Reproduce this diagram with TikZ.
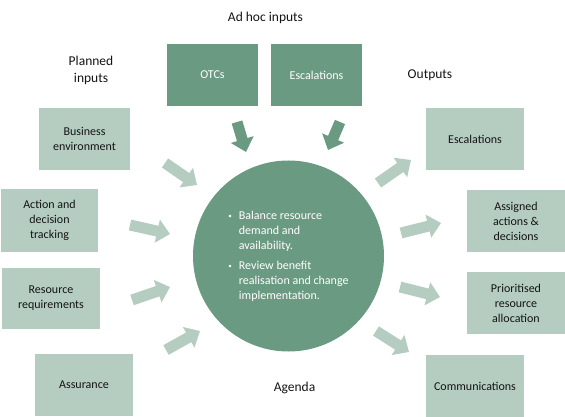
\documentclass[tikz,border=0pt]{standalone}
\usepackage{fontspec}
\setmainfont{Carlito}
\usetikzlibrary{arrows.meta}
\definecolor{darkg}{RGB}{107,154,130}
\definecolor{lightg}{RGB}{180,205,192}
\definecolor{txt}{RGB}{20,20,20}
\begin{document}
\begin{tikzpicture}[x=1pt,y=-1pt,
  lbox/.style={fill=lightg,draw=none,inner sep=0pt,align=center,text=txt,
    font=\fontsize{12}{15}\selectfont},
  dbox/.style={fill=darkg,draw=none,inner sep=0pt,align=center,text=white,
    font=\fontsize{12}{15}\selectfont},
  head/.style={text=txt,align=center,font=\fontsize{13.5}{17}\selectfont},
  blk/.style={line width=11pt,-{Triangle[length=13pt,width=23pt]}},
  lblk/.style={blk,draw=lightg},
  dblk/.style={blk,draw=darkg}]
\useasboundingbox (0,0) rectangle (565,417);
% titles
\node[head] (adhoc) at (265.5,18) {Ad hoc inputs};
\node[head] (planned) at (91,70) {Planned\\inputs};
\node[head] (outputs) at (430,75) {Outputs};
\node[head] (agenda) at (294.5,388) {Agenda};
% ad hoc boxes
\node[dbox,minimum width=91,minimum height=62] (otc) at (212.5,75) {OTCs};
\node[dbox,minimum width=91,minimum height=62] (escin) at (316.5,75) {Escalations};
% planned inputs
\node[lbox,minimum width=91,minimum height=62] (bus) at (84.5,139) {Business\\environment};
\node[lbox,minimum width=97,minimum height=63] (act) at (49.5,220.5) {Action and\\decision\\tracking};
\node[lbox,minimum width=98,minimum height=61] (res) at (51,298.5) {Resource\\requirements};
\node[lbox,minimum width=98,minimum height=62] (ass) at (84,385) {Assurance};
% outputs
\node[lbox,minimum width=98,minimum height=62] (escout) at (475,139) {Escalations};
\node[lbox,minimum width=98,minimum height=62] (asg) at (516,221) {Assigned\\actions \&\\decisions};
\node[lbox,minimum width=98,minimum height=62] (pri) at (516,303) {Prioritised\\resource\\allocation};
\node[lbox,minimum width=98,minimum height=62] (com) at (475,386) {Communications};
% centre circle
\node[circle,fill=darkg,draw=none,minimum size=191,inner sep=0pt,text=white,
  font=\fontsize{12}{15}\selectfont] (core) at (288.5,256)
  {\begin{tabular}{@{}l@{\hspace{7pt}}l@{}}
   \raisebox{1pt}{\scriptsize\textbullet} & Balance resource\\
   & demand and\\
   & availability.\\[5pt]
   \raisebox{1pt}{\scriptsize\textbullet} & Review benefit\\
   & realisation and change\\
   & implementation.
   \end{tabular}};
% arrow end points
\coordinate (a1s) at (237,122); \coordinate (a1e) at (246,152);
\coordinate (a2s) at (340,122); \coordinate (a2e) at (328,150);
\coordinate (b1s) at (165,163); \coordinate (b1e) at (197,185);
\coordinate (b2s) at (130,225); \coordinate (b2e) at (170,234);
\coordinate (b3s) at (132,300); \coordinate (b3e) at (170,287);
\coordinate (b4s) at (166,350); \coordinate (b4e) at (200,331);
\coordinate (c1s) at (378,183); \coordinate (c1e) at (411,160);
\coordinate (c2s) at (401,233); \coordinate (c2e) at (441,223);
\coordinate (c3s) at (400,287); \coordinate (c3e) at (440,297);
\coordinate (c4s) at (376,331); \coordinate (c4e) at (409,352);
\draw[dblk] (a1s) -- (a1e);
\draw[dblk] (a2s) -- (a2e);
\draw[lblk] (b1s) -- (b1e);
\draw[lblk] (b2s) -- (b2e);
\draw[lblk] (b3s) -- (b3e);
\draw[lblk] (b4s) -- (b4e);
\draw[lblk] (c1s) -- (c1e);
\draw[lblk] (c2s) -- (c2e);
\draw[lblk] (c3s) -- (c3e);
\draw[lblk] (c4s) -- (c4e);
\end{tikzpicture}
\end{document}
